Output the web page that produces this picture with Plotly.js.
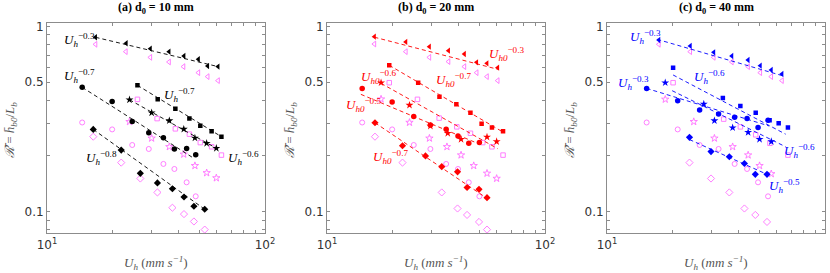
<!DOCTYPE html>
<html>
<head>
<meta charset="utf-8">
<script src="https://cdn.plot.ly/plotly-3.0.1.min.js"></script>
<style>html,body{margin:0;padding:0;background:#fff;}#chart{width:830px;height:273px;}</style>
</head>
<body>
<div id="chart"></div>
<script>
// ---------- Panel (a) d0 = 10 mm ----------
const aTriU = [16.7, 23.1, 29.8, 36.3, 42.5, 49.5, 54.6, 60.9];
const aTriR = [0.874, 0.811, 0.759, 0.731, 0.693, 0.665, 0.612, 0.607];
const aTriOpenU = [16.7, 23.0, 29.8, 36.3, 42.3, 49.5, 54.6, 60.9];
const aTriOpenR = [0.801, 0.731, 0.681, 0.643, 0.607, 0.563, 0.536, 0.510];
const aSqU = [26.0, 32.2, 38.8, 45.0, 50.5, 56.9, 63.1];
const aSqR = [0.481, 0.404, 0.360, 0.318, 0.291, 0.272, 0.254];
const aSqOpenU = [26.0, 32.0, 38.8, 45.0, 50.5, 56.9, 63.1];
const aSqOpenR = [0.404, 0.318, 0.280, 0.262, 0.236, 0.224, 0.202];
const aStarU = [23.9, 30.2, 36.4, 42.4, 47.7, 54.0, 59.8];
const aStarR = [0.402, 0.342, 0.310, 0.279, 0.250, 0.234, 0.220];
const aStarOpenR = [0.306, 0.249, 0.224, 0.204, 0.177, 0.162, 0.152];
const aCircU = [14.5, 19.9, 24.6, 29.3, 34.2, 38.4, 43.7, 48.1];
const aCircR = [0.469, 0.393, 0.307, 0.267, 0.251, 0.218, 0.219, 0.203];
const aCircOpenR = [0.303, 0.278, 0.229, 0.218, 0.181, 0.170, 0.144, 0.121];
const aDiaU = [16.3, 21.9, 26.8, 32.1, 37.6, 42.5, 47.2, 52.9];
const aDiaR = [0.278, 0.215, 0.161, 0.143, 0.133, 0.120, 0.107, 0.103];
const aDiaOpenR = [0.254, 0.184, 0.151, 0.127, 0.105, 0.097, 0.0885, 0.080];
const aFitTriU = [16.7, 60.9], aFitTriR = [0.874, 0.607];
const aFitCircU = [14.5, 47.2], aFitCircR = [0.469, 0.194];
const aFitSqU = [26.0, 63.1], aFitSqR = [0.481, 0.254];
const aFitStarU = [23.9, 59.8], aFitStarR = [0.402, 0.220];
const aFitDiaU = [16.3, 52.9], aFitDiaR = [0.278, 0.103];

// ---------- Panel (b) d0 = 20 mm ----------
const bTriU = [16.5, 23.0, 29.5, 36.1, 42.7, 48.6, 54.2, 60.7];
const bTriR = [0.881, 0.825, 0.778, 0.740, 0.710, 0.640, 0.632, 0.599];
const bTriOpenR = [0.804, 0.731, 0.681, 0.646, 0.607, 0.563, 0.536, 0.510];
const bSqU = [19.3, 26.2, 32.8, 39.2, 45.5, 51.2, 57.1, 64.2];
const bSqR = [0.617, 0.497, 0.417, 0.380, 0.342, 0.298, 0.285, 0.272];
const bSqOpenU = [19.3, 26.0, 32.7, 39.4, 45.5, 51.8, 57.1, 64.2];
const bSqOpenR = [0.497, 0.404, 0.320, 0.287, 0.265, 0.236, 0.224, 0.202];
const bStarU = [17.7, 23.9, 29.8, 35.8, 41.2, 54.2, 60.0];
const bStarR = [0.497, 0.376, 0.290, 0.265, 0.246, 0.253, 0.239];
const bStarOpenU = [17.7, 23.9, 29.5, 35.5, 41.2, 47.1, 54.2, 60.0];
const bStarOpenR = [0.405, 0.303, 0.249, 0.224, 0.202, 0.177, 0.161, 0.151];
const bCircU = [14.5, 19.9, 25.0, 29.8, 35.2, 39.9, 44.7, 50.0];
const bCircR = [0.463, 0.391, 0.326, 0.294, 0.279, 0.256, 0.234, 0.236];
const bCircOpenR = [0.303, 0.278, 0.229, 0.218, 0.181, 0.170, 0.144, 0.121];
const bDiaU = [16.6, 22.2, 28.3, 33.6, 39.7, 43.9, 49.8, 54.2];
const bDiaR = [0.302, 0.227, 0.200, 0.175, 0.164, 0.135, 0.132, 0.119];
const bDiaOpenU = [16.6, 22.2, 33.6, 39.7, 43.9, 49.8, 54.2];
const bDiaOpenR = [0.254, 0.184, 0.127, 0.104, 0.096, 0.088, 0.080];
const bFitTriU = [16.5, 60.7], bFitTriR = [0.875, 0.587];
const bFitSqU = [19.3, 64.5], bFitSqR = [0.617, 0.268];
const bFitStarU = [17.7, 60.6], bFitStarR = [0.493, 0.219];
const bFitCircU = [14.3, 51.2], bFitCircR = [0.430, 0.229];
const bFitDiaU = [16.6, 54.2], bFitDiaR = [0.302, 0.118];

// ---------- Panel (c) d0 = 40 mm ----------
const cTriU = [17.3, 24.1, 30.9, 37.4, 44.4, 50.5, 56.7, 63.5];
const cTriR = [0.845, 0.785, 0.725, 0.693, 0.659, 0.614, 0.582, 0.554];
const cTriOpenR = [0.801, 0.731, 0.681, 0.643, 0.607, 0.563, 0.536, 0.510];
const cSqU = [20.1, 34.0, 40.9, 48.1, 55.7, 61.3, 67.6];
const cSqR = [0.599, 0.411, 0.372, 0.342, 0.312, 0.300, 0.285];
const cSqOpenU = [20.1, 34.3, 40.9, 48.1, 55.9, 67.6];
const cSqOpenR = [0.497, 0.316, 0.287, 0.260, 0.234, 0.202];
const cStarU = [18.5, 27.8, 31.1, 37.7, 44.4, 50.1, 56.7];
const cStarR = [0.497, 0.381, 0.310, 0.284, 0.268, 0.246, 0.239];
const cStarOpenU = [18.5, 25.0, 31.1, 37.7, 44.4, 50.1, 56.7];
const cStarOpenR = [0.404, 0.306, 0.249, 0.224, 0.202, 0.177, 0.160];
const cCircU = [15.2, 21.1, 26.6, 32.5, 38.5, 43.9, 49.3, 54.8];
const cCircR = [0.463, 0.397, 0.354, 0.337, 0.323, 0.318, 0.285, 0.312];
const cCircOpenR = [0.303, 0.278, 0.229, 0.218, 0.181, 0.170, 0.144, 0.121];
const cDiaU = [23.9, 30.0, 36.4, 42.7, 47.9, 54.2];
const cDiaR = [0.252, 0.211, 0.198, 0.182, 0.159, 0.159];
const cDiaOpenR = [0.184, 0.151, 0.127, 0.104, 0.096, 0.088];
const cFitTriU = [17.0, 64.5], cFitTriR = [0.852, 0.540];
const cFitSqU = [20.1, 66.0], cFitSqR = [0.547, 0.262];
const cFitStarU = [19.9, 66.0], cFitStarR = [0.450, 0.224];
const cFitCircU = [15.2, 55.5], cFitCircR = [0.463, 0.290];
const cFitDiaU = [23.9, 54.2], cFitDiaR = [0.245, 0.159];

// ---------- axis ticks ----------
const xTickVals = [10, 20, 30, 40, 50, 60, 70, 80, 90, 100];
const xTickText = ['10<sup>1</sup>', '', '', '', '', '', '', '', '', '10<sup>2</sup>'];
const yTickVals = [0.08, 0.09, 0.1, 0.2, 0.3, 0.4, 0.5, 0.6, 0.7, 0.8, 0.9, 1];
const yTickText = ['', '', '0.1', '', '', '', '0.5', '', '', '', '', '1'];
const panelTitles = ['(a) d<sub>0</sub> = 10 mm', '(b) d<sub>0</sub> = 20 mm', '(c) d<sub>0</sub> = 40 mm'];

const PINK = '#ff70ff';
const traces = [];
function mk(xa, ya, U, R, sym, color, size, open) {
  traces.push({
    type: 'scatter', mode: 'markers', x: U, y: R, xaxis: xa, yaxis: ya,
    marker: open ? {symbol: sym + '-open', size: size, color: color, line: {width: 0.9, color: color}}
                 : {symbol: sym, size: size, color: color, line: {width: 0}},
    hoverinfo: 'skip', showlegend: false
  });
}
function fit(xa, ya, U, R, color) {
  traces.push({
    type: 'scatter', mode: 'lines', x: U, y: R, xaxis: xa, yaxis: ya,
    line: {color: color, width: 0.9, dash: '4px,3px'}, hoverinfo: 'skip', showlegend: false
  });
}
function panel(xa, ya, col, d) {
  mk(xa, ya, d.triOU, d.triOR, 'triangle-left', PINK, 5, true);
  mk(xa, ya, d.sqOU, d.sqOR, 'square', PINK, 4.5, true);
  mk(xa, ya, d.starOU, d.starOR, 'star', PINK, 5.5, true);
  mk(xa, ya, d.circU, d.circOR, 'circle', PINK, 5, true);
  mk(xa, ya, d.diaOU, d.diaOR, 'diamond', PINK, 5.5, true);
  d.fits.forEach(f => fit(xa, ya, f[0], f[1], col));
  mk(xa, ya, d.triU, d.triR, 'triangle-left', col, 5.5, false);
  mk(xa, ya, d.sqU, d.sqR, 'square', col, 4.5, false);
  mk(xa, ya, d.starU, d.starR, 'star', col, 6, false);
  mk(xa, ya, d.circU, d.circR, 'circle', col, 5.5, false);
  mk(xa, ya, d.diaU, d.diaR, 'diamond', col, 5.5, false);
}
panel('x', 'y', '#000000', {
  triOU: aTriOpenU, triOR: aTriOpenR, sqOU: aSqOpenU, sqOR: aSqOpenR, starOU: aStarU, starOR: aStarOpenR,
  circU: aCircU, circOR: aCircOpenR, diaOU: aDiaU, diaOR: aDiaOpenR,
  triU: aTriU, triR: aTriR, sqU: aSqU, sqR: aSqR, starU: aStarU, starR: aStarR, circR: aCircR, diaU: aDiaU, diaR: aDiaR,
  fits: [[aFitTriU, aFitTriR], [aFitCircU, aFitCircR], [aFitSqU, aFitSqR], [aFitStarU, aFitStarR], [aFitDiaU, aFitDiaR]]
});
panel('x2', 'y2', '#ff0000', {
  triOU: bTriU, triOR: bTriOpenR, sqOU: bSqOpenU, sqOR: bSqOpenR, starOU: bStarOpenU, starOR: bStarOpenR,
  circU: bCircU, circOR: bCircOpenR, diaOU: bDiaOpenU, diaOR: bDiaOpenR,
  triU: bTriU, triR: bTriR, sqU: bSqU, sqR: bSqR, starU: bStarU, starR: bStarR, circR: bCircR, diaU: bDiaU, diaR: bDiaR,
  fits: [[bFitTriU, bFitTriR], [bFitSqU, bFitSqR], [bFitStarU, bFitStarR], [bFitCircU, bFitCircR], [bFitDiaU, bFitDiaR]]
});
panel('x3', 'y3', '#0000ff', {
  triOU: cTriU, triOR: cTriOpenR, sqOU: cSqOpenU, sqOR: cSqOpenR, starOU: cStarOpenU, starOR: cStarOpenR,
  circU: cCircU, circOR: cCircOpenR, diaOU: cDiaU, diaOR: cDiaOpenR,
  triU: cTriU, triR: cTriR, sqU: cSqU, sqR: cSqR, starU: cStarU, starR: cStarR, circR: cCircR, diaU: cDiaU, diaR: cDiaR,
  fits: [[cFitTriU, cFitTriR], [cFitSqU, cFitSqR], [cFitStarU, cFitStarR], [cFitCircU, cFitCircR], [cFitDiaU, cFitDiaR]]
});

const W = 830, H = 273;
const boxL = [47, 327, 607], boxW = 218, boxT = 23.3, boxB = 233.3;
const yRange = [Math.log10(0.0764), Math.log10(1.04)];
function xAx(i) {
  return {
    type: 'log', range: [1, 2], domain: [boxL[i] / W, (boxL[i] + boxW) / W],
    anchor: i === 0 ? 'y' : 'y' + (i + 1),
    showline: true, mirror: 'ticks', linecolor: '#8c8c8c', linewidth: 1,
    ticks: 'inside', ticklen: 3, tickcolor: '#8c8c8c', tickwidth: 1,
    tickmode: 'array', tickvals: xTickVals, ticktext: xTickText,
    tickfont: {family: 'DejaVu Sans', size: 12, color: '#333'},
    showgrid: false, zeroline: false, fixedrange: true
  };
}
function yAx(i) {
  return {
    type: 'log', range: yRange, domain: [(H - boxB) / H, (H - boxT) / H],
    anchor: i === 0 ? 'x' : 'x' + (i + 1),
    showline: true, mirror: 'ticks', linecolor: '#8c8c8c', linewidth: 1,
    ticks: 'inside', ticklen: 3, tickcolor: '#8c8c8c', tickwidth: 1,
    tickmode: 'array', tickvals: yTickVals, ticktext: yTickText,
    tickfont: {family: 'DejaVu Sans', size: 12, color: '#333'},
    showgrid: false, zeroline: false, fixedrange: true
  };
}

const SERIF = 'Liberation Serif, Times New Roman, serif';
const ann = [];
function lab(px, py, txt, color) {
  ann.push({xref: 'paper', yref: 'paper', x: px / W, y: 1 - py / H, xanchor: 'left', yanchor: 'middle',
    text: txt, showarrow: false, font: {family: SERIF, size: 13, color: color}});
}
const Uh = e => '<i>U</i><sub><i>h</i></sub><sup>' + e + '</sup>';
const Uh0 = e => '<i>U</i><sub><i>h0</i></sub><sup>' + e + '</sup>';
// panel a labels
lab(62, 40, Uh('−0.3'), '#000');
lab(62, 76, Uh('−0.7'), '#000');
lab(162, 95, Uh('−0.7'), '#000');
lab(226, 158, Uh('−0.6'), '#000');
lab(84, 158, Uh('−0.8'), '#000');
// panel b labels
lab(487, 54, Uh0('−0.3'), '#ff0000');
lab(434, 80, Uh0('−0.7'), '#ff0000');
lab(359, 77, Uh0('−0.6'), '#ff0000');
lab(344, 105, Uh0('−0.5'), '#ff0000');
lab(371, 157, Uh0('−0.7'), '#ff0000');
// panel c labels
lab(628, 37, Uh('−0.3'), '#0000ff');
lab(616, 83, Uh('−0.3'), '#0000ff');
lab(692, 77, Uh('−0.6'), '#0000ff');
lab(782, 151, Uh('−0.6'), '#0000ff');
lab(767, 186, Uh('−0.5'), '#0000ff');

for (let i = 0; i < 3; i++) {
  const cx = (boxL[i] + boxW / 2) / W;
  ann.push({xref: 'paper', yref: 'paper', x: cx, y: 1 - 8 / H, xanchor: 'center', yanchor: 'middle',
    text: '<b>' + panelTitles[i] + '</b>', showarrow: false, font: {family: SERIF, size: 12, color: '#000'}});
  ann.push({xref: 'paper', yref: 'paper', x: cx, y: 1 - 263 / H, xanchor: 'center', yanchor: 'middle',
    text: '<i>U<sub>h</sub></i> (<i>mm s<sup>−1</sup></i>)', showarrow: false, font: {family: SERIF, size: 13, color: '#555'}});
  ann.push({xref: 'paper', yref: 'paper', x: (boxL[i] - 37) / W, y: 1 - 130 / H, xanchor: 'center', yanchor: 'middle',
    textangle: -90, text: '<i>ℛ̄</i> = <i>h̄</i><sub><i>b0</i></sub>/<i>L</i><sub><i>b</i></sub>', showarrow: false,
    font: {family: SERIF, size: 13, color: '#555'}});
}

const layout = {
  width: W, height: H, margin: {l: 0, r: 0, t: 0, b: 0},
  paper_bgcolor: '#fff', plot_bgcolor: '#fff', showlegend: false,
  xaxis: xAx(0), xaxis2: xAx(1), xaxis3: xAx(2),
  yaxis: yAx(0), yaxis2: yAx(1), yaxis3: yAx(2),
  annotations: ann
};
Plotly.newPlot('chart', traces, layout, {staticPlot: true, displayModeBar: false});
</script>
</body>
</html>
